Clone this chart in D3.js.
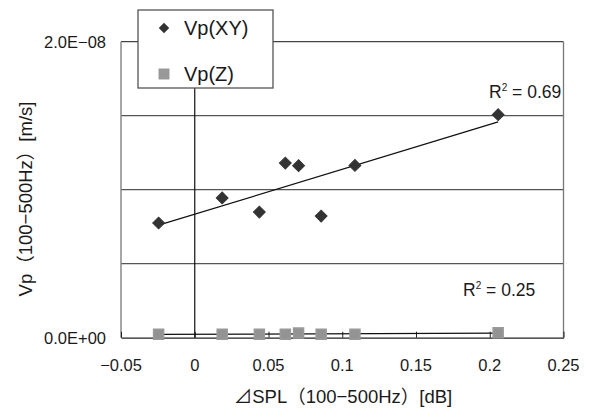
<!DOCTYPE html>
<html><head><meta charset="utf-8">
<script src="https://cdn.jsdelivr.net/npm/d3@7"></script>
<style>
html,body{margin:0;padding:0;background:#fff;}
text{font-family:"Liberation Sans",Arial,"Noto Sans CJK JP",sans-serif;fill:#1a1a1a;}
</style></head>
<body>
<svg id="chart" width="590" height="409"></svg>
<script>
// Data
const xValues = [-0.0245, 0.0186, 0.0438, 0.0614, 0.0704, 0.0857, 0.1086, 0.2057];
const vpXY = [7.75e-9, 9.44e-9, 8.49e-9, 1.180e-8, 1.162e-8, 8.22e-9, 1.164e-8, 1.507e-8];
const vpZ  = [2.4e-10, 2.3e-10, 2.4e-10, 2.4e-10, 3.1e-10, 2.3e-10, 2.4e-10, 3.3e-10];
const seriesNames = ["Vp(XY)", "Vp(Z)"];
const r2Labels = ["0.69", "0.25"];
const xTicks = [-0.05, 0, 0.05, 0.1, 0.15, 0.2, 0.25];
const xTickLabels = ["\u22120.05", "0", "0.05", "0.1", "0.15", "0.2", "0.25"];
const yTicks = [0, 2e-8];
const yTickLabels = ["0.0E+00", "2.0E\u221208"];
const yGrid = [5e-9, 1e-8, 1.5e-8];

const svg = d3.select("#chart");
const L = 121, R = 563.5, T = 41.7, B = 337.7;
const x = d3.scaleLinear().domain([-0.05, 0.25]).range([L, R]);
const y = d3.scaleLinear().domain([0, 2e-8]).range([B, T]);

// gridlines
svg.append("g").selectAll("line").data(yGrid).join("line")
  .attr("x1", L).attr("x2", R).attr("y1", d => y(d)).attr("y2", d => y(d))
  .attr("stroke", "#555").attr("stroke-width", 1.2);
// top border
svg.append("line").attr("x1", L).attr("x2", R).attr("y1", y(2e-8)).attr("y2", y(2e-8))
  .attr("stroke", "#444").attr("stroke-width", 1.2);
// left & right borders
svg.append("line").attr("x1", L).attr("x2", L).attr("y1", T).attr("y2", B)
  .attr("stroke", "#888").attr("stroke-width", 1.5);
svg.append("line").attr("x1", R).attr("x2", R).attr("y1", T).attr("y2", B)
  .attr("stroke", "#777").attr("stroke-width", 1.3);

// x axis (bottom) with inward ticks
const xAxis = d3.axisBottom(x).tickValues(xTicks).tickSizeInner(-6).tickSizeOuter(0).tickFormat(() => "");
const gx = svg.append("g").attr("transform", `translate(0,${B})`).call(xAxis);
gx.select(".domain").attr("stroke", "#222").attr("stroke-width", 1.3);
gx.selectAll(".tick line").attr("stroke", "#222");
// x tick labels
svg.append("g").selectAll("text").data(xTicks).join("text")
  .attr("x", d => x(d)).attr("y", 371).attr("text-anchor", "middle")
  .attr("font-size", 16.5).text((d, i) => xTickLabels[i]);

// vertical axis line at x = 0
svg.append("line").attr("x1", x(0)).attr("x2", x(0)).attr("y1", T).attr("y2", B)
  .attr("stroke", "#111").attr("stroke-width", 1.2);

// y tick labels
svg.append("g").selectAll("text").data(yTicks).join("text")
  .attr("x", 106).attr("y", d => y(d) + 6).attr("text-anchor", "end")
  .attr("font-size", 16.5).text((d, i) => yTickLabels[i]);

// axis titles
svg.append("text").attr("x", 343).attr("y", 403).attr("text-anchor", "middle")
  .attr("font-size", 18.5).text("\u22BFSPL\uFF08100\u2212500Hz\uFF09[dB]");
svg.append("text").attr("transform", "translate(32,199) rotate(-90)").attr("text-anchor", "middle")
  .attr("font-size", 18.5).text("Vp\uFF08100\u2212500Hz\uFF09[m/s]");

// regression
function linreg(xs, ys) {
  const mx = d3.mean(xs), my = d3.mean(ys);
  let sxy = 0, sxx = 0;
  xs.forEach((v, i) => { sxy += (v - mx) * (ys[i] - my); sxx += (v - mx) ** 2; });
  const b = sxy / sxx, a = my - b * mx;
  return v => a + b * v;
}
const xmin = d3.min(xValues), xmax = d3.max(xValues);
[vpXY, vpZ].forEach(ys => {
  const f = linreg(xValues, ys);
  svg.append("line").attr("x1", x(xmin)).attr("x2", x(xmax))
    .attr("y1", y(f(xmin))).attr("y2", y(f(xmax)))
    .attr("stroke", "#111").attr("stroke-width", 1.3);
});

// markers
svg.append("g").selectAll("path").data(xValues).join("path")
  .attr("d", d3.symbol().type(d3.symbolSquare).size(100))
  .attr("transform", (d, i) => `translate(${x(d)},${y(vpZ[i])})`)
  .attr("fill", "#939393").attr("stroke", "#999").attr("stroke-width", 1.5);
svg.append("g").selectAll("path").data(xValues).join("path")
  .attr("d", d3.symbol().type(d3.symbolSquare).size(70))
  .attr("transform", (d, i) => `translate(${x(d)},${y(vpXY[i])}) rotate(45)`)
  .attr("fill", "#333").attr("stroke", "#333").attr("stroke-width", 1);

// R² labels
function r2(xp, yp, val) {
  const t = svg.append("text").attr("x", xp).attr("y", yp).attr("font-size", 17.5);
  t.append("tspan").text("R");
  t.append("tspan").attr("font-size", 10).attr("dy", -7).text("2");
  t.append("tspan").attr("dy", 7).text(" = " + val);
}
r2(489, 98, r2Labels[0]);
r2(463, 296, r2Labels[1]);

// legend
svg.append("rect").attr("x", 138).attr("y", 10).attr("width", 135).attr("height", 78)
  .attr("fill", "#fff").attr("stroke", "#555").attr("stroke-width", 1.3);
svg.append("path").attr("d", d3.symbol().type(d3.symbolSquare).size(55))
  .attr("transform", "translate(164,28) rotate(45)").attr("fill", "#333");
svg.append("path").attr("d", d3.symbol().type(d3.symbolSquare).size(120))
  .attr("transform", "translate(164,74)").attr("fill", "#999");
svg.append("text").attr("x", 184).attr("y", 35).attr("font-size", 20).text(seriesNames[0]);
svg.append("text").attr("x", 184).attr("y", 81).attr("font-size", 20).text(seriesNames[1]);
</script>
</body></html>
